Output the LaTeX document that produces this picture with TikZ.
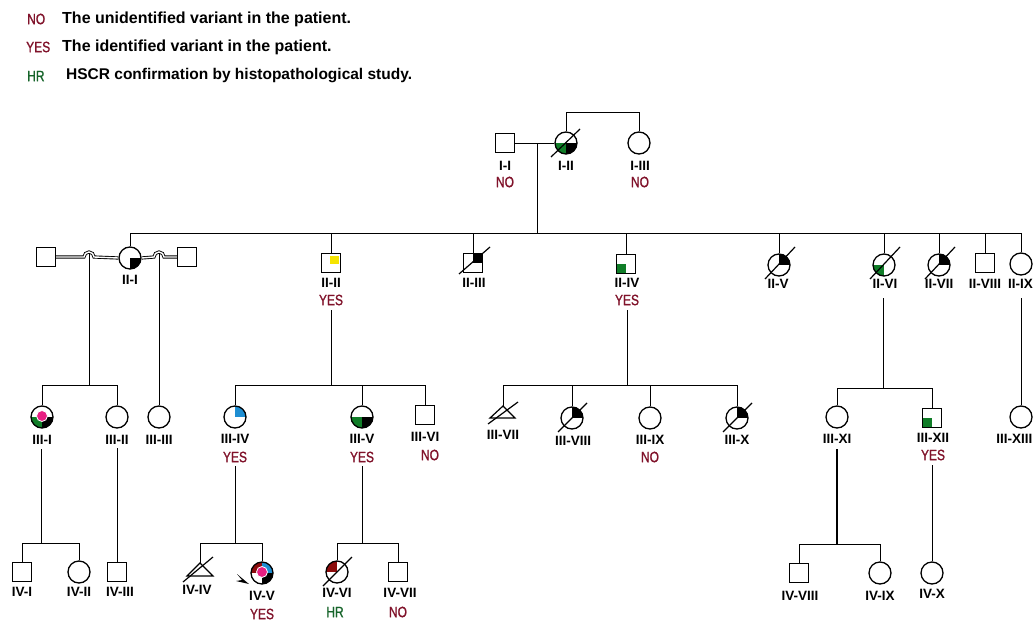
\documentclass[tikz,border=0pt]{standalone}
\usepackage{fontspec}
\setmainfont{Liberation Sans}
\newfontfamily\condfont[FakeStretch=0.8,FakeBold=1.2]{Liberation Sans}
\definecolor{nored}{RGB}{128,18,42}
\definecolor{hrgreen}{RGB}{22,100,42}
\definecolor{grn}{RGB}{16,125,40}
\definecolor{yel}{RGB}{245,228,0}
\definecolor{blu}{RGB}{30,142,210}
\definecolor{pnk}{RGB}{232,30,130}
\definecolor{dred}{RGB}{140,12,12}
\newcommand\qfill[2]{\fill[#2] (path picture bounding box.center) rectangle (path picture bounding box.#1);}
\newcommand\pinkdot{\filldraw[fill=pnk,draw=white,line width=0.8pt] ([yshift=1pt]path picture bounding box.center) circle (5.5pt);}
\begin{document}
\begin{tikzpicture}[x=1pt,y=1pt,
  fem/.style={circle,draw,line width=1.3pt,minimum size=22pt,inner sep=0pt},
  mal/.style={rectangle,draw,line width=1.3pt,minimum size=19pt,inner sep=0pt},
  conn/.style={line width=1pt},
  slash/.style={line width=1.2pt},
  tri/.style={line width=1.2pt,line join=miter},
  dbl/.style={double,double distance=1.4pt,line width=0.9pt},
  lab/.style={font=\fontsize{13.5}{13.5}\selectfont\bfseries,inner sep=0pt},
  yes/.style={font=\condfont\fontsize{15}{15}\selectfont,text=nored,inner sep=0pt},
  hr/.style={font=\condfont\fontsize{15}{15}\selectfont,text=hrgreen,inner sep=0pt},
  legab/.style={font=\condfont\fontsize{15}{15}\selectfont,inner sep=0pt,anchor=west},
  legtx/.style={font=\fontsize{16}{16}\selectfont\bfseries,inner sep=0pt,anchor=west}]
\useasboundingbox (0,0) rectangle (1033,-621);
\clip (0,0) rectangle (1033,-621);

% legend
\node[legab,text=nored] (lgA) at (27,-19) {NO};
\node[legtx] (lgAt) at (62,-19) {The unidentified variant in the patient.};
\node[legab,text=nored] (lgB) at (26,-47) {YES};
\node[legtx] (lgBt) at (62,-47) {The identified variant in the patient.};
\node[legab,text=hrgreen] (lgC) at (27,-76) {HR};
\node[legtx,font=\fontsize{15.5}{15.5}\selectfont\bfseries] (lgCt) at (66,-76) {HSCR confirmation by histopathological study.};

% generation I
\node[mal] (I1) at (505,-143) {};
\node[fem,path picture={\qfill{south west}{grn}\qfill{south east}{black}}] (I2) at (566,-143) {};
\node[fem] (I3) at (639,-143) {};
\draw[slash] ([shift={(-15,-14)}]I2.center) -- ([shift={(14,14)}]I2.center);
\node[lab] (lI1) at (505,-166) {I-I};
\node[yes] (nI1) at (505,-182) {NO};
\node[lab] (lI2) at (566,-166) {I-II};
\node[lab] (lI3) at (640,-166) {I-III};
\node[yes] (nI3) at (640,-182) {NO};
\coordinate (m1) at (537,-143);
\coordinate (sib2) at (537,-233);
\draw[conn] (I1.east) -- (I2.west);
\draw[conn] (m1) -- (sib2);
\draw[conn] (I2.north) -- ++(0,19) -| (I3.north);

% generation II
\node[mal] (S1) at (46,-257) {};
\node[fem,path picture={\qfill{south east}{black}}] (II1) at (130,-258) {};
\node[mal] (S2) at (187,-257) {};
\node[mal,path picture={\fill[yel] ([shift={(-1,-1)}]path picture bounding box.center) rectangle ([shift={(-2,-2)}]path picture bounding box.north east);}] (II2) at (331,-263) {};
\node[mal,path picture={\qfill{north east}{black}}] (II3) at (473,-263) {};
\node[mal,path picture={\qfill{south west}{grn}}] (II4) at (626,-264) {};
\node[fem,path picture={\qfill{north east}{black}}] (II5) at (779,-265) {};
\node[fem,path picture={\qfill{south west}{grn}}] (II6) at (884,-265) {};
\node[fem,path picture={\qfill{north east}{black}}] (II7) at (939,-265) {};
\node[mal] (II8) at (985,-263) {};
\node[fem] (II9) at (1021,-264) {};
\draw[slash] ([shift={(-14,-11)}]II3.center) -- ([shift={(17,16)}]II3.center);
\draw[slash] ([shift={(-14,-14)}]II5.center) -- ([shift={(16,18)}]II5.center);
\draw[slash] ([shift={(-14,-14)}]II6.center) -- ([shift={(16,18)}]II6.center);
\draw[slash] ([shift={(-14,-14)}]II7.center) -- ([shift={(16,18)}]II7.center);
\draw[conn] (II1.north |- sib2) -- (II9.north |- sib2);
\foreach \n in {II1,II2,II3,II4,II5,II6,II7,II8,II9}
  \draw[conn] (\n.north) -- (\n.north |- sib2);
\coordinate (hopA) at (89,-253);
\coordinate (hopB) at (159,-253);
\draw[dbl] (S1.east) -- (84,-257) arc (180:0:5) -- (II1.west);
\draw[dbl] (II1.east) -- (154,-257) arc (180:0:5) -- (S2.west);
\node[lab] (lII1) at (130,-280) {II-I};
\node[lab] (lII2) at (331,-283) {II-II};
\node[yes] (yII2) at (331,-300) {YES};
\node[lab] (lII3) at (474,-283) {II-III};
\node[lab] (lII4) at (627,-283) {II-IV};
\node[yes] (yII4) at (627,-300) {YES};
\node[lab] (lII5) at (778,-284) {II-V};
\node[lab] (lII6) at (885,-284) {II-VI};
\node[lab] (lII7) at (939,-284) {II-VII};
\node[lab] (lII8) at (985,-284) {II-VIII};
\node[lab,anchor=east] (lII9) at (1033,-284) {II-IX};

% generation III
\node[fem,path picture={\qfill{south west}{grn}\qfill{south east}{black}\pinkdot}] (III1) at (42,-417) {};
\node[fem] (III2) at (117,-417) {};
\node[fem] (III3) at (159,-417) {};
\node[fem,path picture={\qfill{north east}{blu}}] (III4) at (235,-417) {};
\node[fem,path picture={\qfill{south west}{grn}\qfill{south east}{black}}] (III5) at (362,-417) {};
\node[mal] (III6) at (425,-415) {};
\coordinate (III7) at (503,-406);
\draw[tri] (III7) -- (490,-418) -- (515,-418) -- cycle;
\draw[slash] (488,-424) -- (518,-402);
\node[fem,path picture={\qfill{north east}{black}}] (III8) at (572,-418) {};
\node[fem] (III9) at (650,-418) {};
\node[fem,path picture={\qfill{north east}{black}}] (III10) at (737,-418) {};
\draw[slash] ([shift={(-14,-14)}]III8.center) -- ([shift={(15,15)}]III8.center);
\draw[slash] ([shift={(-14,-14)}]III10.center) -- ([shift={(15,15)}]III10.center);
\node[fem] (III11) at (837,-417) {};
\node[mal,path picture={\qfill{south west}{grn}}] (III12) at (932,-418) {};
\node[fem] (III13) at (1021,-417) {};

\coordinate (s3a) at (89,-385);
\draw[conn] (hopA) -- (s3a);
\draw[conn] (III1.north |- s3a) -- (III2.north |- s3a);
\draw[conn] (III1.north) -- (III1.north |- s3a);
\draw[conn] (III2.north) -- (III2.north |- s3a);
\draw[conn] (hopB) -- (III3.north);

\coordinate (d22) at (331,-310);
\coordinate (s3b) at (331,-385);
\draw[conn] (d22) -- (s3b);
\draw[conn] (III4.north |- s3b) -- (III6.north |- s3b);
\foreach \n in {III4,III5,III6} \draw[conn] (\n.north) -- (\n.north |- s3b);

\coordinate (d24) at (627,-310);
\coordinate (s3c) at (627,-385);
\draw[conn] (d24) -- (s3c);
\draw[conn] (III7 |- s3c) -- (III10.north |- s3c);
\draw[conn] (III7) -- (III7 |- s3c);
\foreach \n in {III8,III9,III10} \draw[conn] (\n.north) -- (\n.north |- s3c);

\coordinate (d26) at (883,-298);
\coordinate (s3d) at (883,-388);
\draw[conn] (d26) -- (s3d);
\draw[conn] (III11.north |- s3d) -- (III12.north |- s3d);
\foreach \n in {III11,III12} \draw[conn] (\n.north) -- (\n.north |- s3d);

\coordinate (d29) at (1021,-298);
\draw[conn] (d29) -- (III13.north);

\node[lab] (lIII1) at (42,-440) {III-I};
\node[lab] (lIII2) at (117,-440) {III-II};
\node[lab] (lIII3) at (159,-440) {III-III};
\node[lab] (lIII4) at (235,-439) {III-IV};
\node[yes] (yIII4) at (235,-457) {YES};
\node[lab] (lIII5) at (362,-439) {III-V};
\node[yes] (yIII5) at (362,-457) {YES};
\node[lab] (lIII6) at (425,-437) {III-VI};
\node[yes] (nIII6) at (430,-455) {NO};
\node[lab] (lIII7) at (503,-435) {III-VII};
\node[lab] (lIII8) at (573,-441) {III-VIII};
\node[lab] (lIII9) at (650,-440) {III-IX};
\node[yes] (nIII9) at (650,-457) {NO};
\node[lab] (lIII10) at (737,-440) {III-X};
\node[lab] (lIII11) at (837,-439) {III-XI};
\node[lab] (lIII12) at (933,-438) {III-XII};
\node[yes] (yIII12) at (933,-455) {YES};
\node[lab,anchor=east] (lIII13) at (1032.5,-439) {III-XIII};

% generation IV
\node[mal] (IV1) at (22,-572) {};
\node[fem] (IV2) at (79,-572) {};
\node[mal] (IV3) at (117,-572) {};
\coordinate (IV4) at (200,-563);
\draw[tri] (IV4) -- (187,-576) -- (213,-576) -- cycle;
\draw[slash] (183,-582) -- (213,-557);
\node[fem,path picture={\qfill{north west}{dred}\qfill{north east}{blu}\qfill{south east}{black}\pinkdot}] (IV5) at (262,-573) {};
\node[fem,path picture={\qfill{north west}{dred}}] (IV6) at (337,-572) {};
\draw[slash] ([shift={(-14,-14)}]IV6.center) -- ([shift={(15,15)}]IV6.center);
\node[mal] (IV7) at (398,-572) {};
\node[mal] (IV8) at (799,-573) {};
\node[fem] (IV9) at (880,-573) {};
\node[fem] (IV10) at (932,-573) {};
\coordinate (pb) at (249,-584);
\fill (pb) -- (237,-574) -- (242,-580) -- (236,-581) -- cycle;

\coordinate (d31) at (41,-449);
\coordinate (s4a) at (41,-543);
\draw[conn] (d31) -- (s4a);
\draw[conn] (IV1.north |- s4a) -- (IV2.north |- s4a);
\foreach \n in {IV1,IV2} \draw[conn] (\n.north) -- (\n.north |- s4a);
\coordinate (d32) at (117,-448);
\draw[conn] (d32) -- (IV3.north);

\coordinate (d34) at (235,-466);
\coordinate (s4b) at (235,-543);
\draw[conn] (d34) -- (s4b);
\draw[conn] (IV4 |- s4b) -- (IV5.north |- s4b);
\draw[conn] (IV4) -- (IV4 |- s4b);
\draw[conn] (IV5.north) -- (IV5.north |- s4b);

\coordinate (d35) at (362,-466);
\coordinate (s4c) at (362,-543);
\draw[conn] (d35) -- (s4c);
\draw[conn] (IV6.north |- s4c) -- (IV7.north |- s4c);
\foreach \n in {IV6,IV7} \draw[conn] (\n.north) -- (\n.north |- s4c);

\coordinate (d311) at (837,-449);
\coordinate (s4d) at (837,-544);
\draw[conn,line width=1.5pt] (d311) -- (s4d);
\draw[conn] (IV8.north |- s4d) -- (IV9.north |- s4d);
\foreach \n in {IV8,IV9} \draw[conn] (\n.north) -- (\n.north |- s4d);

\coordinate (d312) at (932,-465);
\draw[conn] (d312) -- (IV10.north);

\node[lab] (lIV1) at (22,-592) {IV-I};
\node[lab] (lIV2) at (79,-592) {IV-II};
\node[lab] (lIV3) at (120,-592) {IV-III};
\node[lab] (lIV4) at (197,-590) {IV-IV};
\node[lab] (lIV5) at (262,-596) {IV-V};
\node[yes] (yIV5) at (262,-614) {YES};
\node[lab] (lIV6) at (337,-593) {IV-VI};
\node[hr] (hIV6) at (335,-612) {HR};
\node[lab] (lIV7) at (400,-593) {IV-VII};
\node[yes] (nIV7) at (398,-612) {NO};
\node[lab] (lIV8) at (800,-596) {IV-VIII};
\node[lab] (lIV9) at (880,-596) {IV-IX};
\node[lab] (lIV10) at (932,-594) {IV-X};
\end{tikzpicture}
\end{document}
